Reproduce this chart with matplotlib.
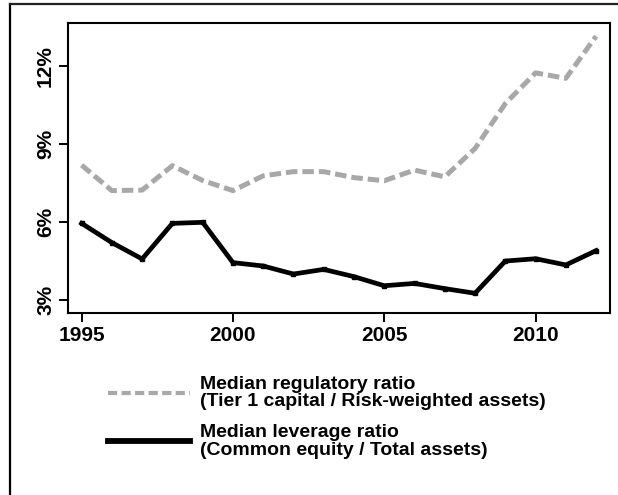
import numpy as np
import matplotlib
matplotlib.use("Agg")
import matplotlib.pyplot as plt
import matplotlib.lines as mlines

plt.rcParams['font.family'] = ['Liberation Sans', 'DejaVu Sans']
plt.rcParams['font.weight'] = 'bold'
plt.rcParams['font.size'] = 14

# data (percent)
years = list(range(1995, 2013))
regulatory = [8.19, 7.21, 7.23, 8.17, 7.60, 7.21, 7.78, 7.94, 7.94, 7.71,
              7.59, 8.00, 7.74, 8.83, 10.56, 11.74, 11.53, 13.15]
leverage = [5.95, 5.21, 4.58, 5.95, 5.99, 4.44, 4.31, 4.00, 4.18, 3.90,
            3.55, 3.64, 3.44, 3.26, 4.50, 4.59, 4.35, 4.90]
xticks = [1995, 2000, 2005, 2010]
yticks = [3, 6, 9, 12]
ytick_labels = ['3%', '6%', '9%', '12%']
legend_labels = ['Median regulatory ratio\n(Tier 1 capital / Risk-weighted assets)',
                 'Median leverage ratio\n(Common equity / Total assets)']

W, H = 618, 495
fig = plt.figure(figsize=(W/100, H/100), dpi=100)

#axes box in pixel coords -> fractions
left, right, top, bottom = 68.3, 610, 22.7, 313.3
ax = fig.add_axes([left/W, 1-bottom/H, (right-left)/W, (bottom-top)/H])

gray = '#a8a8a8'
ax.plot(years, regulatory, color=gray, lw=3.6, dashes=(2.3, 1.0),
        dash_capstyle='butt', solid_joinstyle='round')
ax.plot(years, leverage, color='black', lw=3.4, solid_joinstyle='round',
        marker='s', ms=3.2, mec='black')

ax.set_xlim(1994.56, 2012.46)
ax.set_ylim(2.49, 13.67)
ax.set_xticks(xticks)
ax.set_xticklabels([str(t) for t in xticks])
ax.set_yticks(yticks)
ax.set_yticklabels(ytick_labels, rotation=90, va='center')
for s in ax.spines.values():
    s.set_linewidth(1.5)
ax.tick_params(direction='out', length=6.5, width=1.4, labelsize=15)
ax.tick_params(axis='y', pad=3)
ax.tick_params(axis='x', pad=2.5)

# legend drawn by hand, figure pixel coords
def px(x, y):
    return x/W, 1-y/H

styles = [dict(color=gray, lw=3.0, dashes=(2.2, 1.05), dash_capstyle='butt'),
          dict(color='black', lw=4.2)]
line_y = [392.7, 441]
text_y = [393, 441.5]
for lab, st, ly, ty in zip(legend_labels, styles, line_y, text_y):
    (x0, y0), (x1, _) = px(108, ly), px(190, ly)
    fig.add_artist(mlines.Line2D([x0, x1], [y0, y0], transform=fig.transFigure, **st))
    tx, tyf = px(200, ty)
    fig.text(tx, tyf, lab, ha='left', va='center', fontsize=14,
             fontweight='bold', linespacing=1.02)

# outer frame (only left/top are visible in the crop)
fig.add_artist(mlines.Line2D([10/W, 10/W], [0, 1-4/H], transform=fig.transFigure,
                             color='black', lw=1.6))
fig.add_artist(mlines.Line2D([10/W, 1], [1-4/H, 1-4/H], transform=fig.transFigure,
                             color='#222222', lw=1.6))

fig.savefig('out.png', dpi=100)
